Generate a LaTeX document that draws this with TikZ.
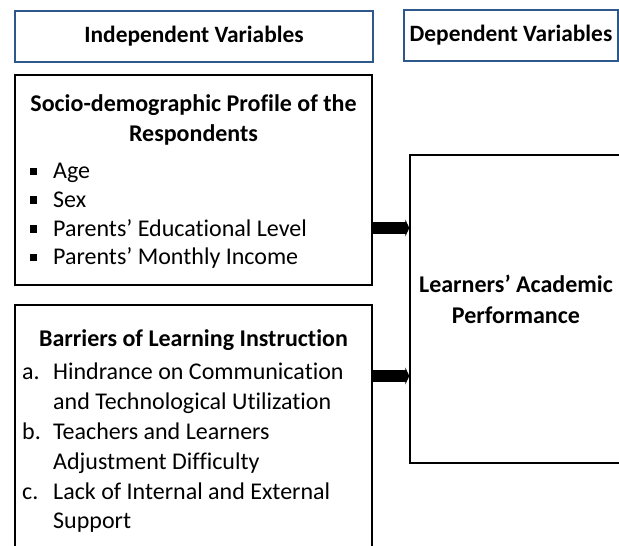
\documentclass[tikz,border=0pt]{standalone}
\usepackage{fontspec}
\setmainfont{Carlito}[Ligatures=NoCommon]
\usetikzlibrary{arrows.meta}
\definecolor{hdrblue}{RGB}{46,88,140}
% square list marker and fixed-width item label
\newcommand\sqmark{\makebox[23.5pt][l]{\raisebox{3.5pt}{\rule{7.5pt}{7.5pt}}}}
\newcommand\itemlbl[1]{\makebox[31pt][l]{#1}}
\begin{document}
\begin{tikzpicture}[x=1pt,y=-1pt,
  every node/.style={inner sep=0pt, font=\fontsize{24}{29.5}\selectfont},
  hdrbox/.style={draw=hdrblue, line width=2.5pt, fill=white,
    font=\bfseries\fontsize{23.4}{29.5}\selectfont},
  varbox/.style={draw=black, line width=1.4pt, fill=white},
  titletext/.style={align=center, font=\bfseries\fontsize{24}{30}\selectfont},
  listtext/.style={align=left, anchor=west},
  fatarrow/.style={line width=12pt, -{Triangle[length=4pt,width=17pt]}},
]
\useasboundingbox (0,0) rectangle (619,546);
\clip (0,0) rectangle (619,546);

% column headers
\node[hdrbox, minimum width=358pt, minimum height=51pt] (indep) at (194,36.5) {Independent Variables};
\node[hdrbox, minimum width=214pt, minimum height=51pt] (dep) at (511,35.5) {Dependent Variables};

% variable boxes
\node[varbox, minimum width=357pt, minimum height=210pt] (socio) at (193.5,180) {};
\node[varbox, minimum width=357pt, minimum height=260pt] (barrier) at (193.5,435) {};
\node[varbox, minimum width=214pt, minimum height=308pt] (perf) at (517,309) {};

% socio-demographic profile
\node[titletext] (sociotitle) at (193.5,120) {Socio-demographic Profile of the\\Respondents};
\node[listtext, font=\fontsize{24}{28.7}\selectfont] (sociolist) at (29.5,216)
  {\sqmark Age\\\sqmark Sex\\\sqmark Parents’ Educational Level\\\sqmark Parents’ Monthly Income};

% barriers of learning instruction
\node[titletext] (barriertitle) at (193.5,340) {Barriers of Learning Instruction};
\node[listtext, font=\fontsize{24}{29.8}\selectfont] (barrierlist) at (22,448)
  {\itemlbl{a.}Hindrance on Communication\\\itemlbl{}and Technological Utilization\\
   \itemlbl{b.}Teachers and Learners\\\itemlbl{}Adjustment Difficulty\\
   \itemlbl{c.}Lack of Internal and External\\\itemlbl{}Support};

% dependent variable
\node[titletext, font=\bfseries\fontsize{24}{31}\selectfont] (perftext) at (516,299) {Learners’ Academic\\Performance};

% connectors
\coordinate (lvlA) at (0,228);
\coordinate (lvlB) at (0,376);
\draw[fatarrow] (socio.east |- lvlA) -- (perf.west |- lvlA);
\draw[fatarrow] (barrier.east |- lvlB) -- (perf.west |- lvlB);
\end{tikzpicture}
\end{document}
